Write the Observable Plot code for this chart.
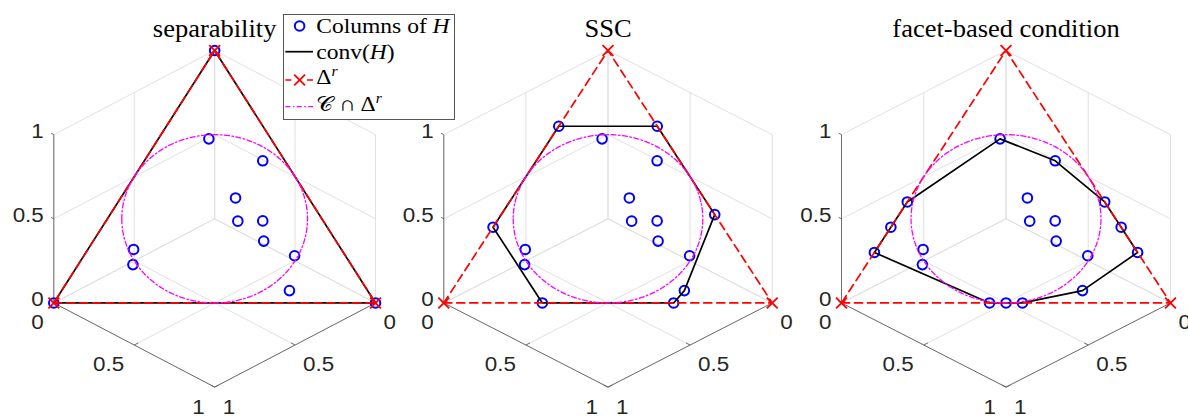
<!DOCTYPE html>
<html>
<head>
<meta charset="utf-8">
<script src="https://cdn.jsdelivr.net/npm/d3@7"></script>
<script src="https://cdn.jsdelivr.net/npm/@observablehq/plot@0.6"></script>
<style>
  body { margin: 0; background: #fff; }
  #fig { position: relative; width: 1188px; height: 416px; overflow: hidden; background: #fff; }
  .panel { position: absolute; top: 0; }
  .panel svg { overflow: visible; }
  #legend { position: absolute; left: 282.7px; top: 14px; z-index: 5; }
</style>
</head>
<body>
<div id="fig"></div>
<script>
// Ambient dimension r (columns of H live in R^3, on the unit simplex)
const r = 3;

// Columns of H common to all three examples
const sharedCols = [
  [0.193, 0.157, 0.650],
  [0.069, 0.368, 0.563],
  [0.227, 0.357, 0.416],
  [0.266, 0.410, 0.324],
  [0.188, 0.487, 0.325],
  [0.225, 0.530, 0.245],
  [0.158, 0.655, 0.187],
  [0.243, 0.708, 0.049],
  [0.646, 0.142, 0.212],
  [0.678, 0.170, 0.152]
];

// Extra columns for each example
const sepExtra = [[1, 0, 0], [0, 1, 0], [0, 0, 1]];
const sscExtra = [[0.3, 0, 0.7], [0, 0.3, 0.7], [0, 0.65, 0.35], [0.3, 0.7, 0], [0.7, 0.3, 0], [0.7, 0, 0.3]];
const facetExtra = [[0, 0.6, 0.4], [0, 0.7, 0.3], [0, 0.8, 0.2], [0.45, 0.55, 0], [0.5, 0.5, 0], [0.55, 0.45, 0], [0.8, 0, 0.2], [0.7, 0, 0.3], [0.6, 0, 0.4]];

// Boundary of conv(H): column indices (shared columns first, then extras)
const sepHull = [10, 11, 12, 10];
const sscHull = [10, 11, 12, 7, 13, 14, 15, 10];
const facetHull = [0, 1, 10, 11, 12, 7, 13, 14, 15, 16, 17, 18, 0];

// Vertices of the unit simplex Delta^r
const simplex = [[1, 0, 0], [0, 1, 0], [0, 0, 1], [1, 0, 0]];

const titles = ["separability", "SSC", "facet-based condition"];
const tickValues = [0, 0.5, 1];
const tickLabels = ["0", "0.5", "1"];

// Orthographic view along (1,1,1)
const proj = ([x, y, z]) => ({u: y - x, v: z - (x + y) / 2});

// Grid lines on the three back faces of the [0,1]^3 box
function gridSegments() {
  const segs = [];
  for (let k = 0; k < 3; k++) {
    const [a, b] = [0, 1, 2].filter(i => i !== k);
    for (const t of tickValues) {
      for (const [fix, run] of [[a, b], [b, a]]) {
        const p = [0, 0, 0], q = [0, 0, 0];
        p[fix] = q[fix] = t; q[run] = 1;
        const P = proj(p), Q = proj(q);
        segs.push({x1: P.u, y1: P.v, x2: Q.u, y2: Q.v});
      }
    }
  }
  return segs;
}

function seg(p, q) { const P = proj(p), Q = proj(q); return {x1: P.u, y1: P.v, x2: Q.u, y2: Q.v}; }

// Axis lines: z along (1,0,z), y along (1,y,0), x along (x,1,0)
const axisLines = [seg([1, 0, 0], [1, 0, 1]), seg([1, 0, 0], [1, 1, 0]), seg([0, 1, 0], [1, 1, 0])];
const tickMarks = tickValues.flatMap(t => [
  seg([1, 0, t], [1, -0.017, t]),
  seg([1, t, 0], [0.975, t, 0]),
  seg([t, 1, 0], [t, 0.975, 0])
]);

// Second-order cone slice C ∩ Delta^r: ||x|| <= e'x / sqrt(r-1) on e'x = 1
function coneSlice(n = 360) {
  const rho = Math.sqrt(1 / (r - 1) - 1 / r);
  const ea = [1 / Math.SQRT2, -1 / Math.SQRT2, 0];
  const eb = [1 / Math.sqrt(6), 1 / Math.sqrt(6), -2 / Math.sqrt(6)];
  return d3.range(n + 1).map(i => {
    const t = 2 * Math.PI * i / n;
    return proj([0, 1, 2].map(j => 1 / r + rho * (Math.cos(t) * ea[j] + Math.sin(t) * eb[j])));
  });
}

const SANS = "'Liberation Sans', Arial, Helvetica, sans-serif";
const SERIF = "'Liberation Serif', 'Times New Roman', serif";
const AXIS_TXT = "#262626";

function panel({title, extra, hull, left, right}) {
  const W = 396;
  const H = sharedCols.concat(extra);
  const pts = H.map(proj);
  const hullPts = hull.map(i => proj(H[i]));
  const simplexPts = simplex.map(proj);
  const zLab = tickValues.map((t, i) => ({...proj([1, 0, t]), s: tickLabels[i]}));
  const yLab = tickValues.map((t, i) => ({...proj([1, t, 0]), s: tickLabels[i]}));
  const xLab = tickValues.map((t, i) => ({...proj([t, 1, 0]), s: tickLabels[i]}));
  const txt = {fill: AXIS_TXT, fontSize: 20, fontFamily: SANS};
  return Plot.plot({
    width: W, height: 416,
    marginLeft: left, marginRight: W - right, marginTop: 50, marginBottom: 29.4,
    x: {domain: [-1, 1], axis: null},
    y: {domain: [-1, 1], axis: null},
    style: {background: "transparent", overflow: "visible"},
    marks: [
      Plot.link(gridSegments(), {x1: "x1", y1: "y1", x2: "x2", y2: "y2", stroke: "#dedede", strokeWidth: 0.9}),
      Plot.link(axisLines, {x1: "x1", y1: "y1", x2: "x2", y2: "y2", stroke: "#606060", strokeWidth: 0.9}),
      Plot.link(tickMarks, {x1: "x1", y1: "y1", x2: "x2", y2: "y2", stroke: "#606060", strokeWidth: 0.9}),
      Plot.text(zLab, {x: "u", y: "v", text: "s", textAnchor: "end", dx: -10, dy: -3, ...txt}),
      Plot.text(yLab, {x: "u", y: "v", text: "s", textAnchor: "end", dx: -10, dy: 20, ...txt}),
      Plot.text(xLab, {x: "u", y: "v", text: "s", textAnchor: "start", dx: 8, dy: 20, ...txt}),
      Plot.dot(pts, {x: "u", y: "v", r: 4.8, stroke: "#0000ff", strokeWidth: 2, fill: "none"}),
      Plot.line(hullPts, {x: "u", y: "v", stroke: "#000", strokeWidth: 1.7, curve: "linear"}),
      Plot.line(simplexPts, {x: "u", y: "v", stroke: "#ff0000", strokeWidth: 1.7, strokeDasharray: "8,5"}),
      Plot.dot(simplexPts.slice(0, 3), {x: "u", y: "v", symbol: "times", r: 5, stroke: "#ff0000", strokeWidth: 1.8}),
      Plot.line(coneSlice(), {x: "u", y: "v", stroke: "#ff00ff", strokeWidth: 1.3, strokeDasharray: "5,2.5,1.5,2.5"}),
      Plot.text([title], {frameAnchor: "top", text: d => d, dy: -14, lineAnchor: "bottom", fill: "#000", fontSize: 25, fontFamily: SERIF, className: "ttl"})
    ]
  });
}

const fig = document.getElementById("fig");
const layout = [
  {title: titles[0], extra: sepExtra, hull: sepHull, left: 53.3, right: 375, offset: 0},
  {title: titles[1], extra: sscExtra, hull: sscHull, left: 47.3, right: 375.7, offset: 396},
  {title: titles[2], extra: facetExtra, hull: facetHull, left: 49, right: 378, offset: 792}
];
for (const cfg of layout) {
  const div = document.createElement("div");
  div.className = "panel";
  div.style.left = cfg.offset + "px";
  div.appendChild(panel(cfg));
  fig.appendChild(div);
}

// Legend
const lg = d3.create("svg").attr("id", "legend").attr("width", 172).attr("height", 106)
  .style("overflow", "visible");
lg.append("rect").attr("x", 0.5).attr("y", 0.5).attr("width", 171).attr("height", 105)
  .attr("fill", "#fff").attr("stroke", "#555").attr("stroke-width", 1);
lg.append("circle").attr("cx", 16.6).attr("cy", 12).attr("r", 4.8)
  .attr("fill", "none").attr("stroke", "#0000ff").attr("stroke-width", 2);
lg.append("line").attr("x1", 2.3).attr("x2", 30).attr("y1", 37.7).attr("y2", 37.7)
  .attr("stroke", "#000").attr("stroke-width", 1.7);
lg.append("line").attr("x1", 2.3).attr("x2", 30).attr("y1", 66).attr("y2", 66)
  .attr("stroke", "#ff0000").attr("stroke-width", 1.7).attr("stroke-dasharray", "6,15.7");
lg.append("path").attr("d", d3.symbol(d3.symbolTimes, 78.5)()).attr("transform", "translate(16.6,66)")
  .attr("fill", "none").attr("stroke", "#ff0000").attr("stroke-width", 1.8);
lg.append("line").attr("x1", 2.3).attr("x2", 30).attr("y1", 92.7).attr("y2", 92.7)
  .attr("stroke", "#ff00ff").attr("stroke-width", 1.3).attr("stroke-dasharray", "5,2.5,1.5,2.5");
const lt = (y) => lg.append("text").attr("x", 33.3).attr("y", y)
  .attr("font-family", SERIF).attr("font-size", 21).attr("fill", "#000");
let t1 = lt(18.7); t1.append("tspan").text("Columns of "); t1.append("tspan").attr("font-style", "italic").text("H");
let t2 = lt(45); t2.append("tspan").text("conv("); t2.append("tspan").attr("font-style", "italic").text("H"); t2.append("tspan").text(")");
let t3 = lt(70); t3.append("tspan").text("Δ"); t3.append("tspan").attr("font-style", "italic").attr("font-size", 14).attr("dy", -8).text("r");
let t4 = lt(97); t4.append("tspan").text("𝒞 ∩ Δ"); t4.append("tspan").attr("font-style", "italic").attr("font-size", 14).attr("dy", -8).text("r");
fig.appendChild(lg.node());

// Widen glyphs horizontally to the figure's font proportions
for (const el of fig.querySelectorAll("text")) {
  const len = el.getComputedTextLength();
  const sx = el.closest(".ttl") ? 1.06 : 1.12;
  if (len > 0) {
    el.setAttribute("textLength", (len * sx).toFixed(2));
    el.setAttribute("lengthAdjust", "spacingAndGlyphs");
  }
}
</script>
</body>
</html>
